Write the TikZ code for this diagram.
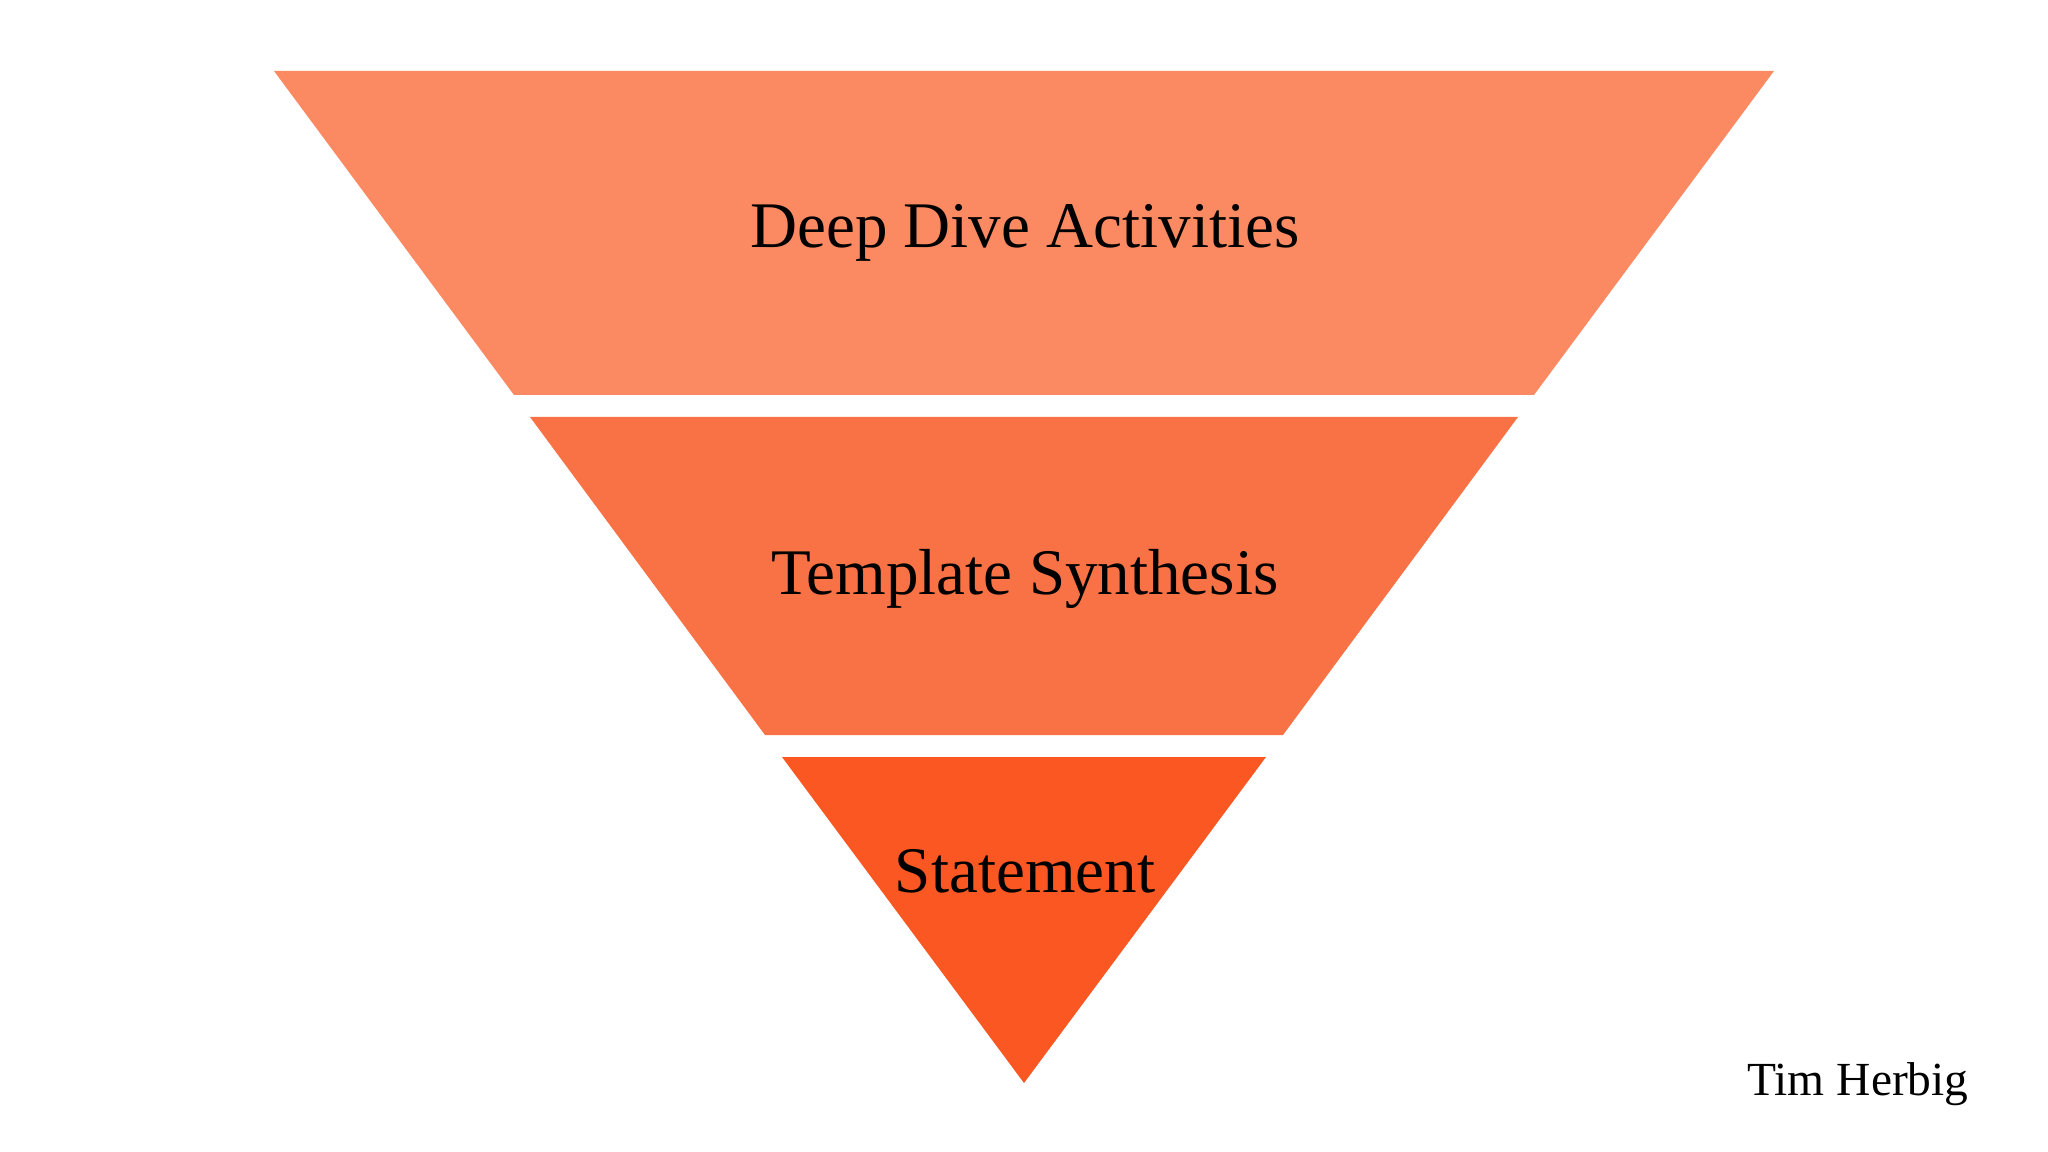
\documentclass[tikz,border=0pt]{standalone}
\usepackage{fontspec}
\setmainfont{Liberation Serif}
\usepackage{tikz}

\definecolor{toplayer}{HTML}{FB8A63}
\definecolor{midlayer}{HTML}{F87245}
\definecolor{lowlayer}{HTML}{FA5722}

\tikzset{
  layertext/.style={anchor=base, font=\fontsize{18.5pt}{22pt}\selectfont, text=black},
  credit/.style={anchor=base, font=\fontsize{13.5pt}{16pt}\selectfont, text=black}
}

\begin{document}
\begin{tikzpicture}[x=0.01cm,y=-0.01cm]
\useasboundingbox (0,0) rectangle (2048,1152);
% funnel layers
\fill[toplayer] (274,71) -- (1774,71) -- (1534,395) -- (514,395) -- cycle;
\fill[midlayer] (530,417) -- (1518,417) -- (1283,735) -- (765,735) -- cycle;
\fill[lowlayer] (782,757) -- (1266,757) -- (1024,1083) -- cycle;
% labels
\node[layertext] (deep) at (1025,248) {Deep Dive Activities};
\node[layertext] (synth) at (1025,594) {Template Synthesis};
\node[layertext] (stmt) at (1025,892) {Statement};
\node[credit] (author) at (1858,1095) {Tim Herbig};
\end{tikzpicture}
\end{document}
